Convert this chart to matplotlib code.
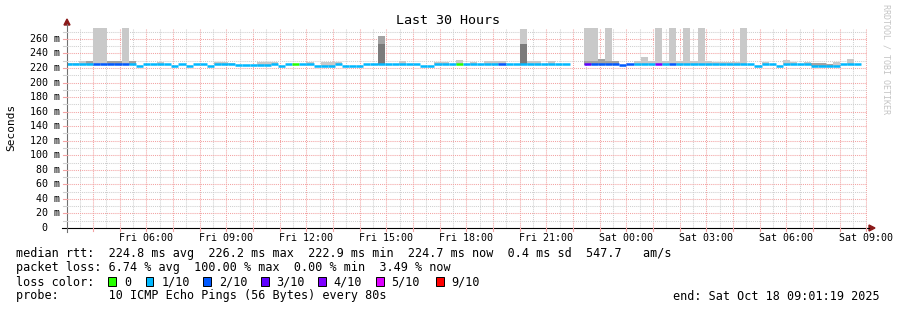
import matplotlib
matplotlib.use("Agg")
import matplotlib.pyplot as plt
from matplotlib.lines import Line2D
from matplotlib.patches import Polygon, Rectangle

nan = float("nan")

W, H = 897, 310
FONT = "DejaVu Sans Mono"

# 16 minute blocks, first block starts Fri 02:56 (minutes since Fri 00:00)
block_start_min = 176
block_len_min = 16
t_start, t_end = 3.022, 33.022  # hours since Fri 00:00

median_ms = [
    225.0, 225.0, 225.0, 225.0, 225.6, 225.4, 225.4, 225.4, 225.4, 225.0,
    223.4, 225.0, 225.0, 225.0, 225.0, 223.4, 225.0, 223.4, 225.0, 225.0,
    223.4, 225.0, 225.0, 225.0, 224.0, 224.0, 224.0, 224.0, 224.0, 225.0,
    223.4, 225.0, 225.0, 225.0, 225.0, 223.4, 223.4, 223.4, 225.0, 223.4,
    223.4, 223.4, 225.0, 225.0, 225.0, 225.0, 225.0, 225.0, 225.0, 225.0,
    223.4, 223.4, 225.0, 225.0, 225.0, 225.0, 225.0, 225.0, 225.0, 225.0,
    225.0, 225.0, 225.0, 225.0, 225.0, 225.0, 225.0, 225.0, 225.0, 225.0,
    225.0, nan, nan, 225.4, 225.4, 225.4, 225.4, 225.4, 223.6, 225.0,
    225.0, 225.0, 225.0, 225.0, 225.0, 225.0, 225.0, 225.0, 225.0, 225.0,
    225.0, 225.0, 225.0, 225.0, 225.0, 225.0, 225.0, 223.4, 225.0, 225.0,
    223.4, 225.0, 225.0, 225.0, 225.0, 223.4, 223.4, 222.2, 222.2, 225.0,
    225.0, 225.0, nan,
]

loss_tenths = [
    1, 1, 1, 1, 2, 2, 2, 2, 2, 1,
    1, 1, 1, 1, 1, 1, 1, 1, 1, 1,
    1, 1, 1, 1, 1, 1, 1, 1, 1, 1,
    1, 1, 0, 1, 1, 1, 1, 1, 1, 1,
    1, 1, 1, 1, 1, 1, 1, 1, 1, 1,
    1, 1, 1, 1, 1, 0, 1, 1, 1, 1,
    1, 2, 1, 1, 1, 1, 1, 1, 1, 1,
    1, 0, 0, 3, 2, 2, 2, 2, 2, 2,
    1, 1, 1, 4, 1, 2, 1, 1, 1, 1,
    1, 1, 1, 1, 1, 1, 1, 1, 1, 1,
    1, 1, 1, 1, 1, 1, 1, 1, 1, 1,
    1, 1, 1,
]

# smoke tops (ms), 0 = nothing above the median
smoke_max = [
    227.5, 227.5, 229, 0, 300, 300, 0, 0, 300, 0,
    0, 0, 0, 228.5, 0, 0, 0, 0, 0, 0,
    0, 228, 228, 227.5, 0, 0, 0, 228.5, 228.5, 228.5,
    0, 0, 0, 0, 228, 0, 228.5, 228.5, 228.5, 0,
    0, 0, 0, 0, 0, 0, 0, 229, 0, 0,
    0, 0, 228.5, 228.5, 0, 231, 0, 228, 0, 229,
    229, 229, 0, 0, 274, 229, 229, 0, 229, 0,
    0, 0, 0, 300, 300, 0, 300, 0, 0, 0,
    229, 235.5, 229, 300, 229, 300, 230, 300, 229, 300,
    230, 228, 228, 228, 228, 300, 0, 0, 228, 0,
    0, 231, 228, 0, 228, 0, 0, 0, 228, 0,
    233, 0, 0,
]

smoke_mid = [
    0, 0, 0, 230, 0, 0, 230, 229, 0, 230,
    0, 0, 0, 0, 0, 0, 0, 0, 0, 0,
    0, 0, 0, 0, 0, 0, 0, 0, 0, 0,
    0, 0, 0, 0, 0, 0, 0, 0, 0, 0,
    0, 0, 0, 0, 264, 0, 0, 0, 0, 0,
    0, 0, 0, 0, 0, 0, 0, 0, 0, 0,
    0, 0, 0, 0, 0, 0, 0, 0, 0, 0,
    0, 0, 0, 230, 230, 232, 230, 230, 0, 0,
    0, 0, 0, 0, 0, 0, 0, 0, 0, 0,
    0, 0, 0, 0, 0, 0, 0, 0, 0, 0,
    0, 0, 0, 0, 0, 226.5, 226.5, 226, 0, 0,
    0, 0, 0,
]

smoke_core = [0] * 113
smoke_core[44] = 253
smoke_core[64] = 253

loss_colors = {0: "#26ff00", 1: "#00b8ff", 2: "#0059ff", 3: "#5e00ff",
               4: "#7e00ff", 5: "#dd00ff", 9: "#ff0000"}
legend_steps = [0, 1, 2, 3, 4, 5, 9]
legend_names = ["0", "1/10", "2/10", "3/10", "4/10", "5/10", "9/10"]
legend_box_x = [108.3, 145.7, 203.3, 261.0, 318.3, 376.0, 436.0]

x_tick_hours = [6, 9, 12, 15, 18, 21, 24, 27, 30, 33]
x_tick_labels = ["Fri 06:00", "Fri 09:00", "Fri 12:00", "Fri 15:00", "Fri 18:00",
                 "Fri 21:00", "Sat 00:00", "Sat 03:00", "Sat 06:00", "Sat 09:00"]
y_ticks = list(range(20, 261, 20))

stats_lines = [
    "median rtt:  224.8 ms avg  226.2 ms max  222.9 ms min  224.7 ms now  0.4 ms sd  547.7   am/s",
    "packet loss: 6.74 % avg  100.00 % max  0.00 % min  3.49 % now",
]
probe_line = "probe:       10 ICMP Echo Pings (56 Bytes) every 80s"
end_line = "end: Sat Oct 18 09:01:19 2025"
LEG_FS = 8.5


def fx(x):
    return x / W


def fy(y):
    return 1 - y / H


fig = plt.figure(figsize=(W / 100, H / 100), dpi=100)
fig.patch.set_facecolor("white")
ax = fig.add_axes([fx(67), fy(228), 800 / W, 200 / H])
ax.set_xlim(t_start, t_end)
ax.set_ylim(0, 275)
ax.axis("off")

# grid
red_grid = "#f3a3a3"
grey_grid = "#cfcfcf"
for h in range(3, 34):
    ax.axvline(h + 0.5, color=grey_grid, lw=0.75, ls=(0, (1, 1)), zorder=1)
    ax.axvline(h, color=red_grid, lw=0.75, ls=(0, (1, 1)), zorder=1)
for v in range(10, 275, 10):
    col = red_grid if v % 20 == 0 else grey_grid
    ax.axhline(v, color=col, lw=0.75, ls=(0, (1, 1)), zorder=1)

# smoke + median
blk = block_len_min / 60
for j, med in enumerate(median_ms):
    if med != med:
        continue
    t0 = (block_start_min + block_len_min * j) / 60
    base = med - 1.2
    for top, col in ((smoke_max[j], "#c9c9c9"), (smoke_mid[j], "#a3a3a3"),
                     (smoke_core[j], "#7b7b7b")):
        if top > 0:
            ax.bar(t0, top - base, bottom=base, width=blk, align="edge",
                   color=col, linewidth=0, zorder=2)
    ax.hlines(med, t0, t0 + blk, colors=loss_colors[loss_tenths[j]],
              lw=1.8, zorder=3)

# axes lines and arrows
fig.add_artist(Line2D([fx(62), fx(869)], [fy(228), fy(228)], color="black", lw=0.8))
fig.add_artist(Line2D([fx(67), fx(67)], [fy(232), fy(24)], color="#707070", lw=0.8))
fig.add_artist(Polygon([[fx(64), fy(25)], [fx(70), fy(25)], [fx(67), fy(19)]],
                       closed=True, color="#8b1a1a", transform=fig.transFigure))
fig.add_artist(Polygon([[fx(869), fy(225)], [fx(869), fy(231)], [fx(875), fy(228)]],
                       closed=True, color="#8b1a1a", transform=fig.transFigure))

# tick marks
for h in range(4, 34):
    xp = 67 + (h - t_start) * 800 / 30
    fig.add_artist(Line2D([fx(xp), fx(xp)], [fy(228), fy(231)], color=red_grid, lw=0.8))
for v in range(10, 275, 10):
    yp = 228 - v * 200 / 275
    fig.add_artist(Line2D([fx(63), fx(67)], [fy(yp), fy(yp)],
                          color=red_grid if v % 20 == 0 else grey_grid, lw=0.8))

# labels
fig.text(fx(448), fy(20), "Last 30 Hours", ha="center", va="center",
         fontsize=9.6, family=FONT)
fig.text(fx(11), fy(127), "Seconds", rotation=90, ha="center", va="center",
         fontsize=8, family=FONT)
fig.text(fx(886), fy(4), "RRDTOOL / TOBI OETIKER", rotation=270, ha="center",
         va="top", fontsize=6, family=FONT, color="#c4c4c4")

for v in y_ticks:
    yp = 228 - v * 200 / 275
    fig.text(fx(60), fy(yp), f"{v} m", ha="right", va="center", fontsize=7.2, family=FONT)
fig.text(fx(44.5), fy(228), "0", ha="center", va="center", fontsize=7.2, family=FONT)

for h, lab in zip(x_tick_hours, x_tick_labels):
    xp = 67 + (h - t_start) * 800 / 30
    fig.text(fx(xp), fy(238), lab, ha="center", va="center", fontsize=7.2, family=FONT)

for i, line in enumerate(stats_lines):
    fig.text(fx(16), fy(254 + 14 * i), line, ha="left", va="center", fontsize=LEG_FS, family=FONT)

fig.text(fx(16), fy(282), "loss color:", ha="left", va="center", fontsize=LEG_FS, family=FONT)
for step, name, bx in zip(legend_steps, legend_names, legend_box_x):
    fig.add_artist(Rectangle((fx(bx), fy(286)), 7.5 / W, 9 / H, transform=fig.transFigure,
                             facecolor=loss_colors[step], edgecolor="black", lw=0.7))
    fig.text(fx(bx + 15.5), fy(282), name, ha="left", va="center", fontsize=LEG_FS, family=FONT)

fig.text(fx(16), fy(296), probe_line, ha="left", va="center", fontsize=LEG_FS, family=FONT)
fig.text(fx(880), fy(296), end_line, ha="right", va="center", fontsize=LEG_FS, family=FONT)

fig.savefig("out.png", dpi=100)
